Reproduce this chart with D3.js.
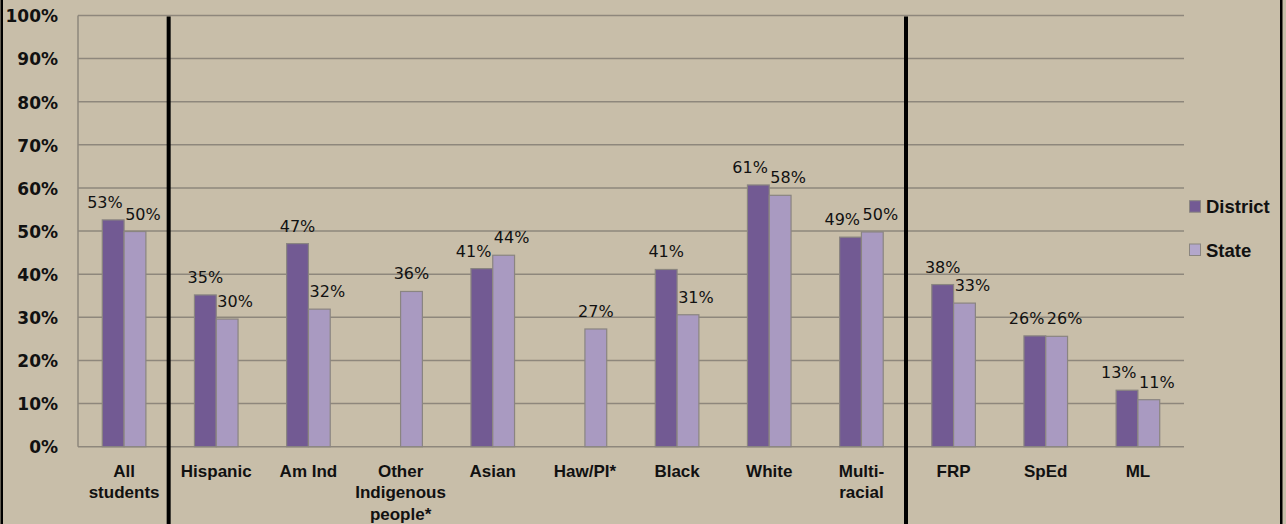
<!DOCTYPE html>
<html>
<head>
<meta charset="utf-8">
<script src="https://cdn.jsdelivr.net/npm/d3@7"></script>
<style>
  html, body { margin: 0; padding: 0; background: #C8BEA9; }
  svg { display: block; }
</style>
</head>
<body>
<svg id="chart" width="1286" height="524"></svg>
<script>
// ---- data ----
const categories = ["All\nstudents", "Hispanic", "Am Ind", "Other\nIndigenous\npeople*", "Asian", "Haw/PI*", "Black", "White", "Multi-\nracial", "FRP", "SpEd", "ML"];
const series = ["District", "State"];
const districtValues = [52.6, 35.2, 47.1, null, 41.3, null, 41.1, 60.7, 48.6, 37.6, 25.7, 13.1];
const stateValues    = [49.9, 29.6, 31.9, 36.0, 44.4, 27.3, 30.6, 58.3, 49.8, 33.3, 25.6, 10.9];
const yTicks = [0, 10, 20, 30, 40, 50, 60, 70, 80, 90, 100];
const groupBreaks = [1, 9]; // separators drawn before these category indices

// ---- layout ----
const W = 1286, H = 524;
const plot = { left: 78, right: 1184, top: 15.5, bottom: 446.7 };
const colors = { District: "#725A93", State: "#A99AC1" };
const legendColors = { District: "#735A94", State: "#B3A7CB" };
const gridColor = "#8E877C";

const svg = d3.select("#chart");
svg.append("rect").attr("width", W).attr("height", H).attr("fill", "#C8BEA9");

const x = d3.scaleBand().domain(categories).range([plot.left, plot.right]).padding(0);
const y = d3.scaleLinear().domain([0, 100]).range([plot.bottom, plot.top]);
const half = 21.8;
const xs = d3.scaleBand().domain(series).range([-half, half]).padding(0);

// gridlines
svg.append("g").selectAll("line").data(yTicks).join("line")
  .attr("x1", plot.left).attr("x2", plot.right)
  .attr("y1", d => y(d)).attr("y2", d => y(d))
  .attr("stroke", gridColor).attr("stroke-width", 1.5);

// y axis line
svg.append("line").attr("x1", plot.left).attr("x2", plot.left)
  .attr("y1", plot.top).attr("y2", plot.bottom)
  .attr("stroke", gridColor).attr("stroke-width", 1.5);

// y tick labels
const yAxis = d3.axisLeft(y).tickValues(yTicks).tickFormat(d => d + "%").tickSize(0).tickPadding(20);
const yg = svg.append("g").attr("transform", `translate(${plot.left},0)`).call(yAxis);
yg.select(".domain").remove();
yg.selectAll("text")
  .attr("font-family", "DejaVu Sans").attr("font-weight", "bold").attr("font-size", 17)
  .attr("fill", "#111").attr("dy", "0.37em");

// bars
const rows = categories.map((c, i) => ({ cat: c, District: districtValues[i], State: stateValues[i] }));
const gBars = svg.append("g");
rows.forEach(r => {
  const cx = x(r.cat) + x.bandwidth() / 2;
  series.forEach(s => {
    if (r[s] == null) return;
    gBars.append("rect")
      .attr("x", cx + xs(s)).attr("width", xs.bandwidth())
      .attr("y", y(r[s])).attr("height", y(0) - y(r[s]))
      .attr("fill", colors[s]).attr("stroke", "#8A8580").attr("stroke-width", 1.2);
  });
});

// data labels
const gLab = svg.append("g").attr("font-family", "DejaVu Sans").attr("font-size", 16).attr("fill", "#111").attr("text-anchor", "middle");
const fmt = d => d3.format(".0f")(d) + "%";
rows.forEach(r => {
  const cx = x(r.cat) + x.bandwidth() / 2;
  const dC = cx + xs("District") + xs.bandwidth() / 2;
  const sC = cx + xs("State") + xs.bandwidth() / 2;
  let sx = sC, dx = dC;
  let sT = null, dT = null;
  if (r.State != null) {
    sT = gLab.append("text").text(fmt(r.State)).attr("y", y(r.State) - 12);
  }
  if (r.District != null) {
    dT = gLab.append("text").text(fmt(r.District)).attr("y", y(r.District) - 12);
  }
  if (sT && dT) {
    sx = sC + 8;
    const ws = sT.node().getComputedTextLength();
    const wd = dT.node().getComputedTextLength();
    if (Math.abs(y(r.State) - y(r.District)) < 16) {
      const limit = sx - ws / 2 - 2.5 - wd / 2;
      if (dx > limit) dx = limit;
    }
  }
  if (sT) sT.attr("x", sx);
  if (dT) dT.attr("x", dx);
});

// category labels
const gCat = svg.append("g").attr("font-family", "Liberation Sans").attr("font-weight", "bold")
  .attr("font-size", 17).attr("fill", "#111").attr("text-anchor", "middle");
categories.forEach(c => {
  const cx = x(c) + x.bandwidth() / 2;
  const t = gCat.append("text").attr("x", cx).attr("y", 476.5);
  c.split("\n").forEach((line, i) => {
    t.append("tspan").attr("x", cx).attr("dy", i === 0 ? 0 : 21.6).text(line);
  });
});

// group separators
svg.append("g").selectAll("line").data(groupBreaks).join("line")
  .attr("x1", i => x(categories[i]) - 1.5).attr("x2", i => x(categories[i]) - 1.5)
  .attr("y1", plot.top + 1).attr("y2", H)
  .attr("stroke", "#000").attr("stroke-width", 4);

// legend
const legend = svg.append("g");
series.forEach((s, i) => {
  const ly = 200.7 + i * 43.3;
  legend.append("rect").attr("x", 1189.5).attr("y", ly).attr("width", 11).attr("height", 11.5)
    .attr("fill", legendColors[s]).attr("stroke", "#8A8580").attr("stroke-width", 1);
  legend.append("text").attr("x", 1206).attr("y", ly + 12.7).text(s)
    .attr("font-family", "Liberation Sans").attr("font-weight", "bold").attr("font-size", 18.5).attr("fill", "#111");
});

// outer border lines (left and right)
svg.append("rect").attr("x", 0.5).attr("y", 0).attr("width", 2.5).attr("height", H).attr("fill", "#000");
svg.append("rect").attr("x", 1280).attr("y", 0).attr("width", 2.5).attr("height", H).attr("fill", "#000");
</script>
</body>
</html>
